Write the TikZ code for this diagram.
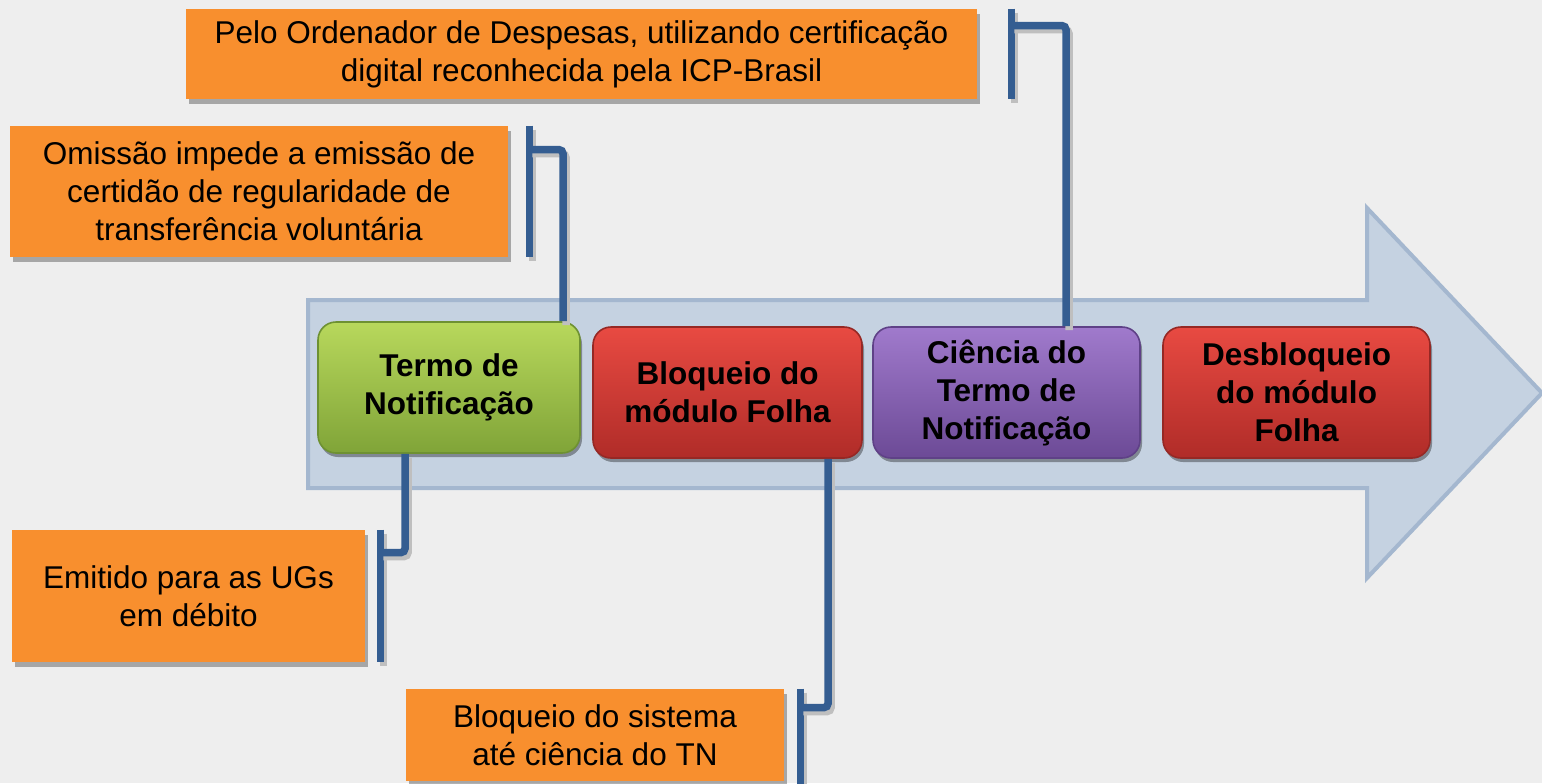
\documentclass[tikz,border=0pt]{standalone}
\usepackage{fontspec}
\setmainfont{Liberation Sans}
\usetikzlibrary{shadows,calc}
\definecolor{bg}{RGB}{238,238,238}
\definecolor{orangebox}{RGB}{248,143,46}
\definecolor{connblue}{RGB}{52,93,145}
\definecolor{arrowfill}{RGB}{197,210,225}
\definecolor{arrowline}{RGB}{164,183,207}
\definecolor{gtop}{RGB}{184,216,92}
\definecolor{gbot}{RGB}{128,164,56}
\definecolor{gline}{RGB}{110,145,50}
\definecolor{rtop}{RGB}{232,74,66}
\definecolor{rbot}{RGB}{176,44,40}
\definecolor{rline}{RGB}{150,40,36}
\definecolor{ptop}{RGB}{160,122,204}
\definecolor{pbot}{RGB}{108,74,150}
\definecolor{pline}{RGB}{95,65,135}
\tikzset{
  obox/.style={fill=orangebox, inner sep=0pt, align=center,
    font=\fontsize{15.75pt}{19pt}\selectfont,
    drop shadow={shadow xshift=1.5pt, shadow yshift=-2.5pt, opacity=0.3, fill=black}},
  stepbox/.style={rounded corners=9pt, inner sep=0pt, align=center,
    minimum height=65.5pt,
    font=\fontsize{15.75pt}{19pt}\selectfont\bfseries, line width=0.8pt,
    drop shadow={shadow xshift=1pt, shadow yshift=-2pt, opacity=0.35, fill=black}},
  greenstep/.style={stepbox, top color=gtop, bottom color=gbot, draw=gline},
  redstep/.style={stepbox, top color=rtop, bottom color=rbot, draw=rline},
  purplestep/.style={stepbox, top color=ptop, bottom color=pbot, draw=pline},
  conn/.style={draw=connblue, line width=3.75pt,
    preaction={draw=black!25, line width=3.75pt, transform canvas={xshift=1.5pt, yshift=-2pt}}},
  bigarrow/.style={fill=arrowfill, draw=arrowline, line width=2pt, line join=miter},
}
\begin{document}
\begin{tikzpicture}[x=0.5pt, y=-0.5pt]
\useasboundingbox (0,0) rectangle (1542,783);
\fill[bg] (0,0) rectangle (1542,783);
\clip (0,0) rectangle (1542,783);

% big arrow
\draw[bigarrow] (308,300) -- (1367,300) -- (1367,208) -- (1542,393) -- (1367,578) -- (1367,488) -- (308,488) -- cycle;

% orange notes
\node[obox, minimum width=395.5pt, minimum height=45pt] (top) at (581.5,54)
  {Pelo Ordenador de Despesas, utilizando certificação\\digital reconhecida pela ICP-Brasil};
\node[obox, minimum width=249pt, minimum height=65.5pt] (omis) at (259,191.5)
  {Omissão impede a emissão de\\certidão de regularidade de\\transferência voluntária};
\node[obox, minimum width=176.5pt, minimum height=66pt] (emit) at (188.5,596)
  {Emitido para as UGs\\em débito};
\node[obox, minimum width=189pt, minimum height=46pt] (bloqs) at (595,735)
  {Bloqueio do sistema\\até ciência do TN};

% steps
\node[greenstep, minimum width=131pt] (green) at (449,387.5) {Termo de\\Notificação};
\node[redstep, minimum width=134.5pt] (red1) at (727.5,392.5) {Bloqueio do\\módulo Folha};
\node[purplestep, minimum width=133.5pt] (purple) at (1006.5,392.5) {Ciência do\\Termo de\\Notificação};
\node[redstep, minimum width=133.5pt] (red2) at (1296.5,392.5) {Desbloqueio\\do módulo\\Folha};

% connectors
\draw[conn] ([xshift=17pt]top.north east) -- ([xshift=17pt]top.south east);
\draw[conn, rounded corners=2pt] ([xshift=17pt,yshift=-8.5pt]top.north east) -| ([xshift=29.75pt]purple.north);

\draw[conn] ([xshift=10.5pt]omis.north east) -- ([xshift=10.5pt]omis.south east);
\draw[conn, rounded corners=2pt] ([xshift=10.5pt,yshift=-12pt]omis.north east) -| ([xshift=57pt]green.north);

\draw[conn] ([xshift=7.5pt]emit.north east) -- ([xshift=7.5pt]emit.south east);
\draw[conn, rounded corners=2pt] ([xshift=7.5pt,yshift=-11.5pt]emit.north east) -| ([xshift=-22pt]green.south);

\draw[conn] ([xshift=8pt]bloqs.north east) -- ([xshift=8pt,yshift=-4pt]bloqs.south east);
\draw[conn, rounded corners=2pt] ([xshift=8pt,yshift=-9.5pt]bloqs.north east) -| ([xshift=50.25pt]red1.south);
\end{tikzpicture}
\end{document}
